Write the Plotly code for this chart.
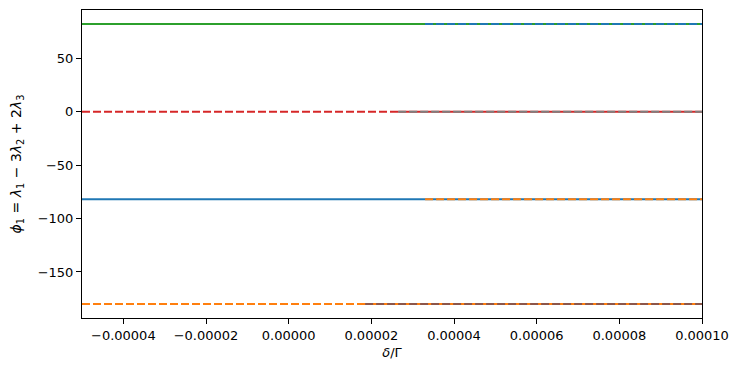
import plotly.graph_objects as go

# Data: each branch as (x values, y values)
x_green = [-5e-5, 1e-4]
y_green = [82, 82]
x_blue_upper = [3.3e-5, 1e-4]
y_blue_upper = [82, 82]

x_red_left = [-5e-5, 2.65e-5]
y_red_left = [0, 0]
x_red_right = [2.65e-5, 1e-4]
y_red_right = [0, 0]
x_gray = [2.65e-5, 1e-4]
y_gray = [0, 0]

x_blue_lower = [-5e-5, 1e-4]
y_blue_lower = [-82, -82]
x_orange_upper = [3.3e-5, 1e-4]
y_orange_upper = [-82, -82]

x_orange_left = [-5e-5, 1.85e-5]
y_orange_left = [-180, -180]
x_orange_right = [1.85e-5, 1e-4]
y_orange_right = [-180, -180]
x_brown = [1.85e-5, 1e-4]
y_brown = [-180, -180]

x_ticks = [-4e-5, -2e-5, 0, 2e-5, 4e-5, 6e-5, 8e-5, 1e-4]
x_ticktext = ["−0.00004", "−0.00002", "0.00000", "0.00002", "0.00004", "0.00006", "0.00008", "0.00010"]
y_ticks = [50, 0, -50, -100, -150]
y_ticktext = ["50", "0", "−50", "−100", "−150"]

C0, C1, C2, C3, C5, C7 = "#1f77b4", "#ff7f0e", "#2ca02c", "#d62728", "#8c564b", "#7f7f7f"
DASH = "8px,3px"
W = 2

fig = go.Figure()

def add(x, y, color, dash="solid"):
    fig.add_trace(go.Scatter(x=x, y=y, mode="lines",
                             line=dict(color=color, width=W, dash=dash),
                             showlegend=False, hoverinfo="skip"))

add(x_green, y_green, C2)
add(x_blue_upper, y_blue_upper, C0, DASH)
add(x_red_left, y_red_left, C3, DASH)
add(x_red_right, y_red_right, C3)
add(x_gray, y_gray, C7, DASH)
add(x_blue_lower, y_blue_lower, C0)
add(x_orange_upper, y_orange_upper, C1, DASH)
add(x_orange_left, y_orange_left, C1, DASH)
add(x_orange_right, y_orange_right, C1)
add(x_brown, y_brown, C5, DASH)

font = dict(family="DejaVu Sans", size=13, color="black")
title_font = dict(family="DejaVu Sans", size=14, color="black")

fig.update_layout(
    width=740, height=372,
    margin=dict(l=82, r=38, t=10, b=54),
    plot_bgcolor="white", paper_bgcolor="white",
    font=font,
    xaxis=dict(range=[-5e-5, 1e-4], tickvals=x_ticks, ticktext=x_ticktext,
               showgrid=False, zeroline=False, showline=True, mirror=True,
               linecolor="black", linewidth=1, ticks="outside", ticklen=5,
               tickwidth=1, tickcolor="black",
               title=dict(text="<i>δ</i>/Γ", standoff=6, font=font)),
    yaxis=dict(range=[-193.1, 95.1], tickvals=y_ticks, ticktext=y_ticktext,
               showgrid=False, zeroline=False, showline=True, mirror=True,
               linecolor="black", linewidth=1, ticks="outside", ticklen=5,
               tickwidth=1, tickcolor="black",
               title=dict(text="<i>ϕ</i><sub>1</sub> = <i>λ</i><sub>1</sub> − 3<i>λ</i><sub>2</sub> + 2<i>λ</i><sub>3</sub>",
                          standoff=12, font=title_font)),
)

fig.write_html("out.html")
